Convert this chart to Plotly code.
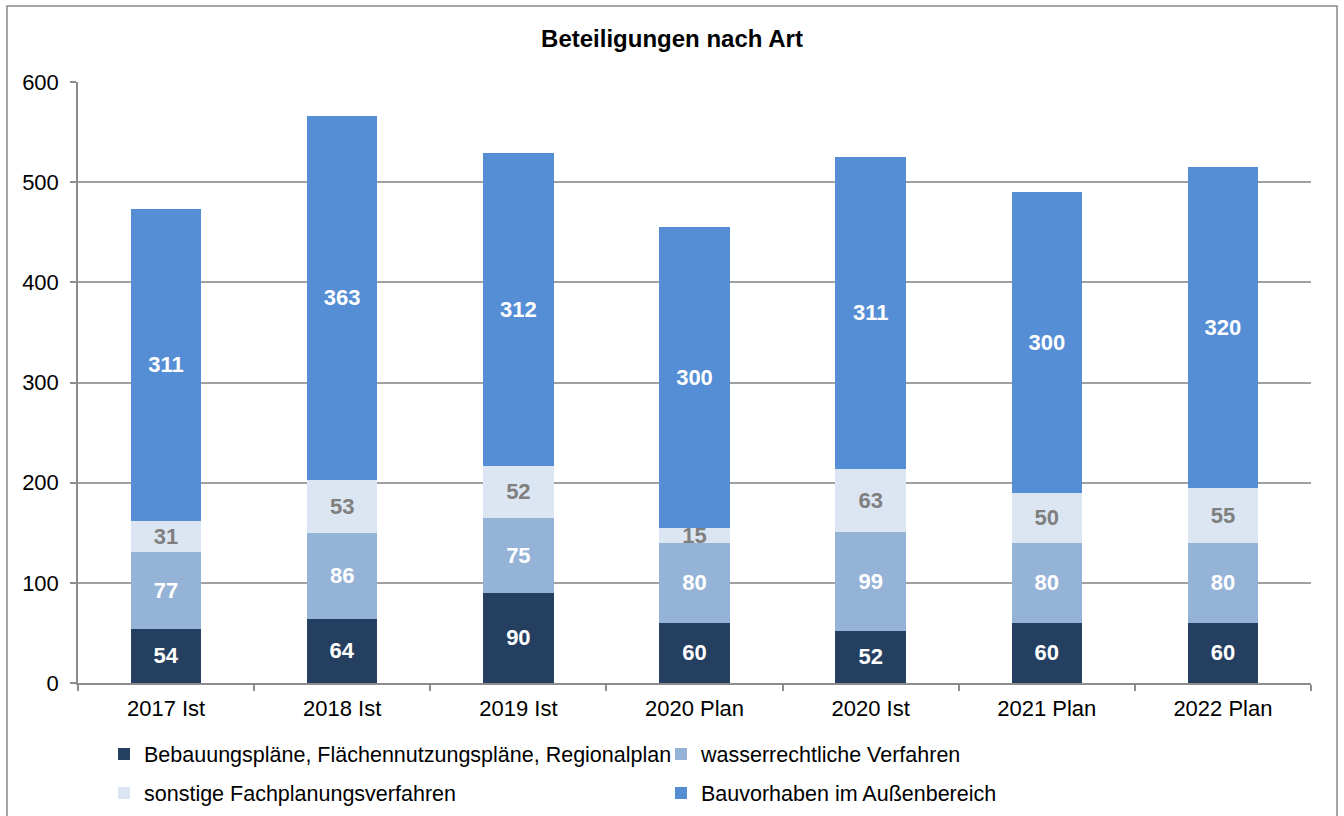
import plotly.graph_objects as go

categories = ["2017 Ist", "2018 Ist", "2019 Ist", "2020 Plan", "2020 Ist", "2021 Plan", "2022 Plan"]
bebauung = [54, 64, 90, 60, 52, 60, 60]
wasser = [77, 86, 75, 80, 99, 80, 80]
sonstige = [31, 53, 52, 15, 63, 50, 55]
aussen = [311, 363, 312, 300, 311, 300, 320]

series_names = [
    "Bebauungspläne, Flächennutzungspläne, Regionalplan",
    "wasserrechtliche Verfahren",
    "sonstige Fachplanungsverfahren",
    "Bauvorhaben im Außenbereich",
]
series_values = [bebauung, wasser, sonstige, aussen]
colors = ["#253F61", "#95B3D7", "#DCE6F2", "#558ED5"]
label_colors = ["#FFFFFF", "#FFFFFF", "#7F7F7F", "#FFFFFF"]
legend_ids = ["legend", "legend", "legend2", "legend2"]

FONT = "Liberation Sans, Arial, sans-serif"

fig = go.Figure()
for name, vals, col, lcol, lid in zip(series_names, series_values, colors, label_colors, legend_ids):
    fig.add_trace(go.Bar(
        x=categories, y=vals, name=name,
        marker=dict(color=col, line=dict(width=0)),
        texttemplate="%{y}", textposition="inside", insidetextanchor="middle",
        constraintext="none", textangle=0,
        textfont=dict(family=FONT, size=22, color=lcol, weight="bold"),
        hoverinfo="skip", legend=lid,
    ))

W, H = 1344, 816
L, R, T, B = 78, 1311, 82, 683
pw, ph = R - L, B - T

def px_x(x):
    return (x - L) / pw

def px_y(y):
    return (B - y) / ph

leg_common = dict(orientation="h", xanchor="left", yanchor="middle",
                  xref="container", yref="container", traceorder="normal",
                  font=dict(family=FONT, size=21.5, color="#000000"),
                  bgcolor="rgba(0,0,0,0)", borderwidth=0, itemwidth=30,
                  entrywidth=512, entrywidthmode="pixels")

fig.update_layout(
    width=W, height=H,
    margin=dict(l=L, r=W - R, t=T, b=H - B, pad=0, autoexpand=False),
    paper_bgcolor="white", plot_bgcolor="white",
    barmode="stack", bargap=0.6,
    font=dict(family=FONT, size=22, color="#000000"),
    title=dict(text="<b>Beteiligungen nach Art</b>", x=0.5, xanchor="center",
               y=1 - 39 / H, yanchor="middle", yref="container",
               font=dict(family=FONT, size=24, color="#000000")),
    xaxis=dict(type="category", showgrid=False, showline=True, linecolor="#8C8C8C", linewidth=1.5,
               ticks="outside", ticklen=6, tickcolor="#8C8C8C", tickwidth=1.5,
               tickson="boundaries", tickfont=dict(family=FONT, size=22, color="#000000"),
               ticklabelstandoff=5),
    yaxis=dict(range=[0, 600], dtick=100, tick0=0, showgrid=True, gridcolor="#A0A0A0", gridwidth=1.5,
               showline=True, linecolor="#8C8C8C", linewidth=1.5, zeroline=False,
               ticks="outside", ticklen=6, tickcolor="#8C8C8C", tickwidth=1.5,
               tickfont=dict(family=FONT, size=22, color="#000000"), ticklabelstandoff=7),
    legend=dict(x=104 / W, y=1 - 754 / H, **leg_common),
    legend2=dict(x=104 / W, y=1 - 793 / H, **leg_common),
    shapes=[dict(type="rect", xref="paper", yref="paper",
                 x0=px_x(7), x1=px_x(1337), y0=px_y(830), y1=px_y(6),
                 line=dict(color="#898989", width=1.5), fillcolor="rgba(0,0,0,0)", layer="below")],
)

fig.write_html("out.html", config={"displayModeBar": False},
               post_script="document.body.style.margin='0';")
